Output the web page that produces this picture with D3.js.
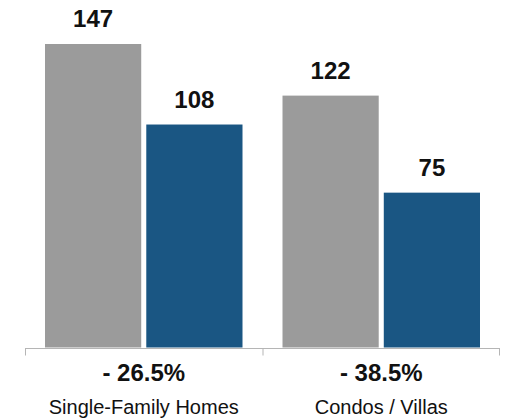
<!DOCTYPE html>
<html>
<head>
<meta charset="utf-8">
<script src="https://cdn.jsdelivr.net/npm/d3@7"></script>
<style>
  body { margin: 0; background: #fff; }
  text { font-family: "Liberation Sans", Arial, Helvetica, sans-serif; fill: #111; }
</style>
</head>
<body>
<div id="chart"></div>
<script>
// categories and series
const categories = ["Single-Family Homes", "Condos / Villas"];
const seriesNames = ["prior", "current"];
const priorValues = [147, 122];
const currentValues = [108, 75];
const changeLabels = ["- 26.5%", "- 38.5%"];

const colors = { prior: "#9b9b9b", current: "#1a5683" };

var margin = {top: 44, right: 5, bottom: 72, left: 25},
    width = 505 - margin.left - margin.right,
    height = 420 - margin.top - margin.bottom;

var svg = d3.select("#chart")
  .append("svg")
    .attr("width", width + margin.left + margin.right)
    .attr("height", height + margin.top + margin.bottom)
  .append("g")
    .attr("transform", "translate(" + margin.left + "," + margin.top + ")");

// build rows from the arrays
var rows = categories.map(function(c, i) {
  return { cat: c, prior: priorValues[i], current: currentValues[i], change: changeLabels[i] };
});

var x0 = d3.scaleBand()
  .domain(categories)
  .range([0, width]);

var x1 = d3.scaleBand()
  .domain(seriesNames)
  .range([20, x0.bandwidth() - 20])
  .paddingInner(0.05);

var y = d3.scaleLinear()
  .domain([0, 147])
  .range([height - 0.5, 0]);

// axis line with ticks at the band edges
var axis = svg.append("g")
  .attr("transform", "translate(0," + (height + 0.5) + ")");
axis.append("line")
  .attr("x1", 0).attr("x2", width)
  .attr("stroke", "#b5b5b5");
axis.selectAll(".tk")
  .data(categories.concat([null]))
  .enter().append("line")
    .attr("x1", function(d) { return d === null ? width - 0.5 : x0(d) + 0.5; })
    .attr("x2", function(d) { return d === null ? width - 0.5 : x0(d) + 0.5; })
    .attr("y1", 0).attr("y2", 7)
    .attr("stroke", "#b5b5b5");

var groups = svg.selectAll(".grp")
  .data(rows)
  .enter().append("g")
    .attr("transform", function(d) { return "translate(" + x0(d.cat) + ",0)"; });

groups.selectAll("rect")
  .data(function(d) { return seriesNames.map(function(k) { return { key: k, value: d[k] }; }); })
  .enter().append("rect")
    .attr("x", function(d) { return x1(d.key); })
    .attr("y", function(d) { return y(d.value); })
    .attr("width", x1.bandwidth())
    .attr("height", function(d) { return y(0) - y(d.value); })
    .attr("fill", function(d) { return colors[d.key]; });

groups.selectAll(".val")
  .data(function(d) { return seriesNames.map(function(k) { return { key: k, value: d[k] }; }); })
  .enter().append("text")
    .attr("x", function(d) { return x1(d.key) + x1.bandwidth() / 2; })
    .attr("y", function(d) { return y(d.value) - 17; })
    .attr("text-anchor", "middle")
    .style("font-size", "24px")
    .style("font-weight", "bold")
    .text(function(d) { return d.value; });

// change labels and category names under the axis
groups.append("text")
  .attr("x", x0.bandwidth() / 2)
  .attr("y", height + 33)
  .attr("text-anchor", "middle")
  .style("font-size", "24px")
  .style("font-weight", "bold")
  .text(function(d) { return d.change; });

groups.append("text")
  .attr("x", x0.bandwidth() / 2)
  .attr("y", height + 66)
  .attr("text-anchor", "middle")
  .style("font-size", "20px")
  .text(function(d) { return d.cat; });
</script>
</body>
</html>
